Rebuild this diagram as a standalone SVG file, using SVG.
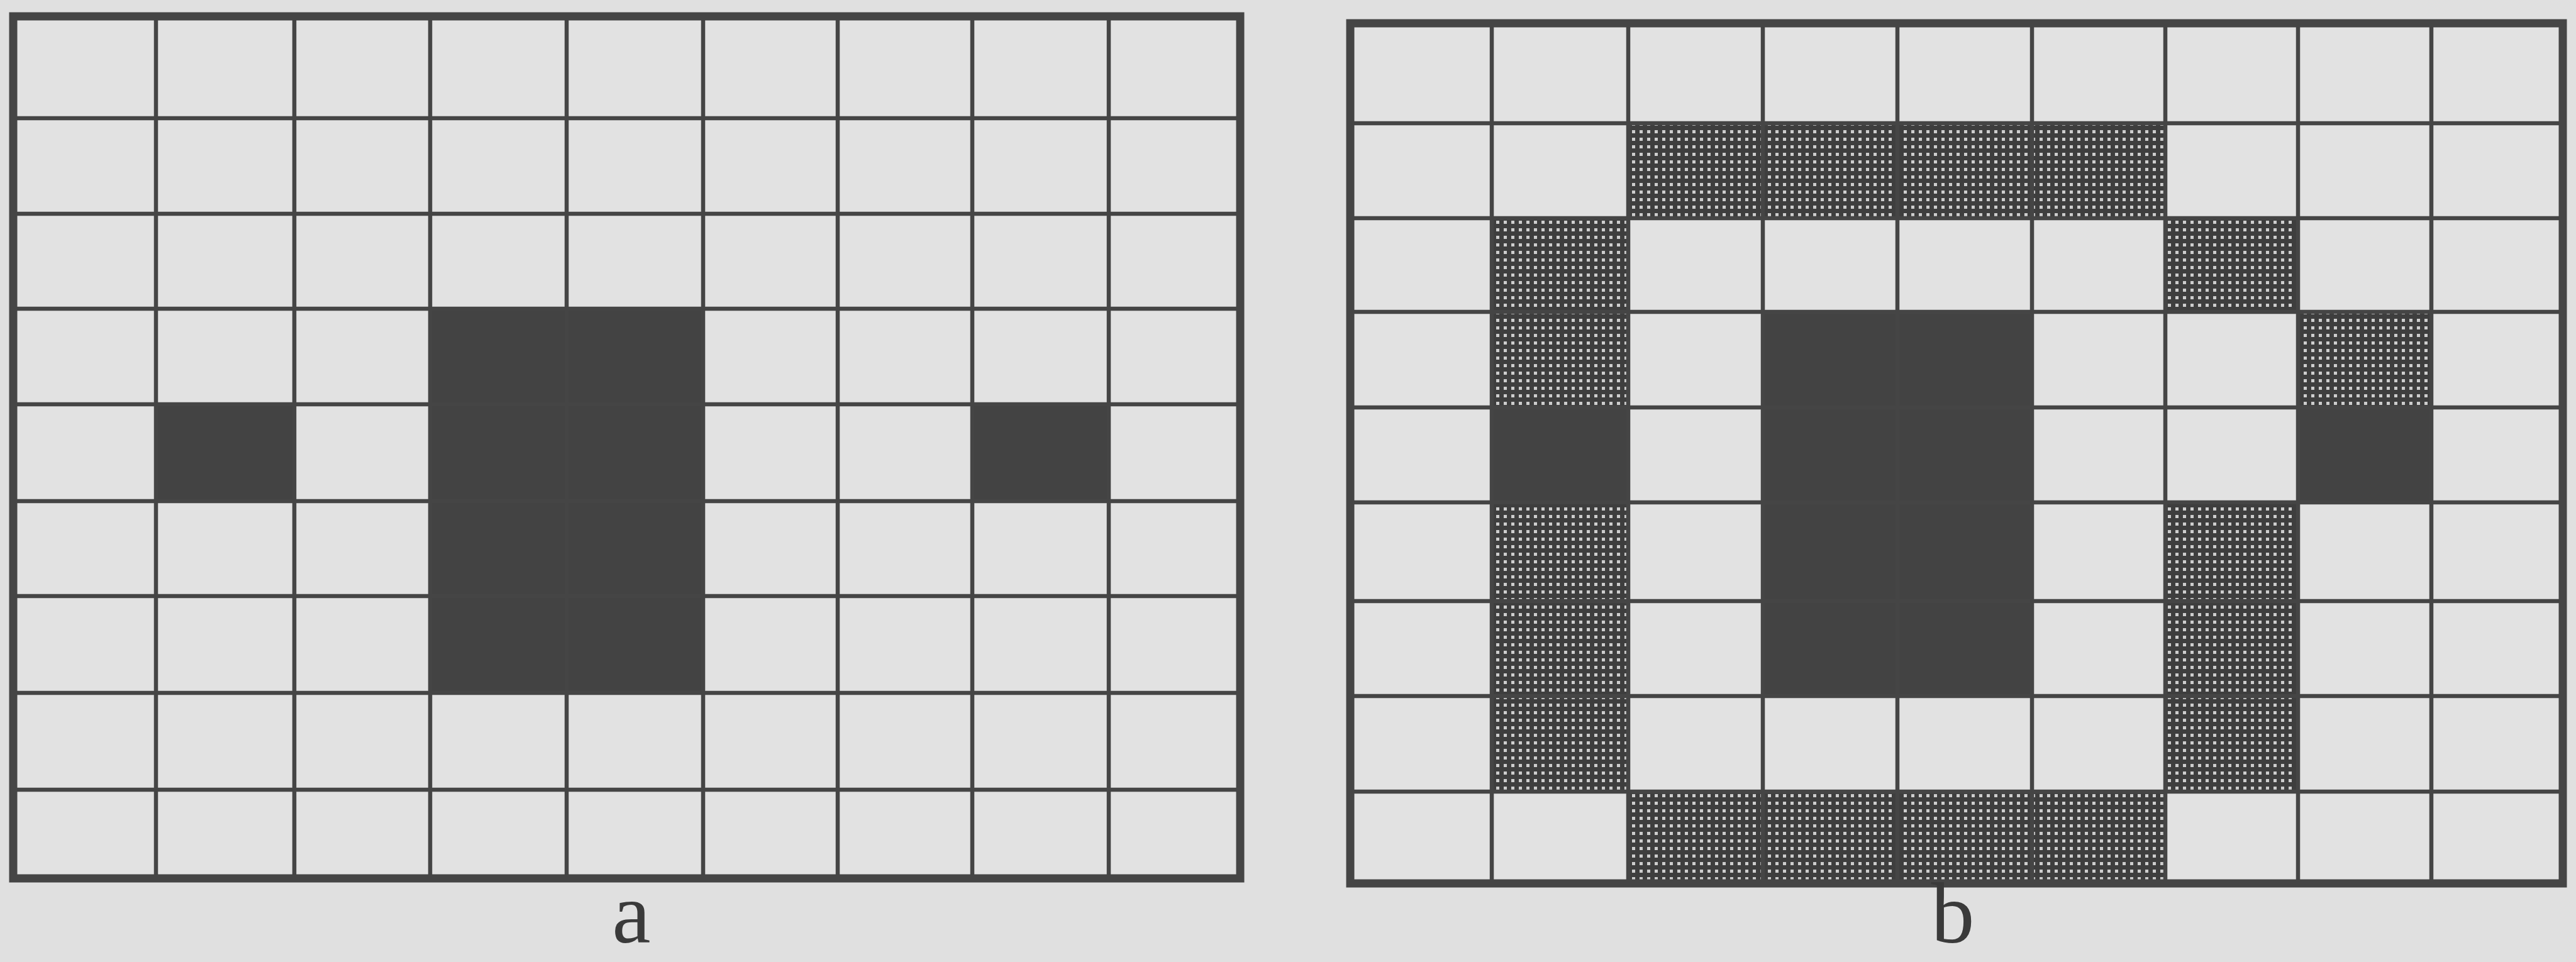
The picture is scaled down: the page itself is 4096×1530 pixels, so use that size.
<svg xmlns="http://www.w3.org/2000/svg" width="4096" height="1530" viewBox="0 0 4096 1530">
<style>
.bg{fill:#e0e0e0}
.cell{fill:#e2e2e2}
.blk{fill:#434343}
.dot{fill:url(#stip)}
.grid{fill:none;stroke:#454545;stroke-width:6.5}
.frame{fill:none;stroke:#454545;stroke-width:13}
.lbl{font-family:"Liberation Serif","Times New Roman",serif;font-size:138px;fill:#3a3a3a;text-anchor:middle}
</style>
<defs>
<pattern id="stip" patternUnits="userSpaceOnUse" width="12" height="12">
<rect width="12" height="12" fill="#3e3e3e"/>
<rect x="3" y="3" width="5" height="5" fill="#cdcdcd"/>
</pattern>
</defs>
<rect class="bg" width="4096" height="1530"/>
<g id="grid-a">
<rect class="cell" x="21" y="26" width="1951" height="1371"/>
<rect class="blk" x="684" y="491" width="434" height="611"/>
<rect class="blk" x="248" y="643" width="220" height="154"/>
<rect class="blk" x="1546" y="643" width="217" height="154"/>
<path class="grid" d="M248 26V1397M468 26V1397M684 26V1397M901 26V1397M1118 26V1397M1332 26V1397M1546 26V1397M1763 26V1397M21 188H1972M21 340H1972M21 491H1972M21 643H1972M21 797H1972M21 948H1972M21 1102H1972M21 1256H1972"/>
<rect class="frame" x="21" y="26" width="1951" height="1371"/>
</g>
<g id="grid-b">
<rect class="cell" x="2147" y="37" width="1928" height="1368"/>
<rect class="dot" x="2589" y="196" width="854" height="151"/>
<rect class="dot" x="2589" y="1259" width="854" height="146"/>
<rect class="dot" x="2372" y="347" width="217" height="301"/>
<rect class="dot" x="2372" y="799" width="217" height="460"/>
<rect class="dot" x="3443" y="347" width="211" height="149"/>
<rect class="dot" x="3654" y="496" width="212" height="152"/>
<rect class="dot" x="3443" y="799" width="211" height="460"/>
<rect class="blk" x="2803" y="496" width="428" height="611"/>
<rect class="blk" x="2372" y="648" width="217" height="151"/>
<rect class="blk" x="3654" y="648" width="212" height="151"/>
<path class="grid" d="M2372 37V1405M2589 37V1405M2803 37V1405M3017 37V1405M3231 37V1405M3443 37V1405M3654 37V1405M3866 37V1405M2147 196H4075M2147 347H4075M2147 496H4075M2147 648H4075M2147 799H4075M2147 956H4075M2147 1107H4075M2147 1259H4075"/>
<rect class="frame" x="2147" y="37" width="1928" height="1368"/>
</g>
<g id="labels">
<text class="lbl" x="1004" y="1499">a</text>
<text class="lbl" x="3105" y="1499">b</text>
</g>
</svg>
